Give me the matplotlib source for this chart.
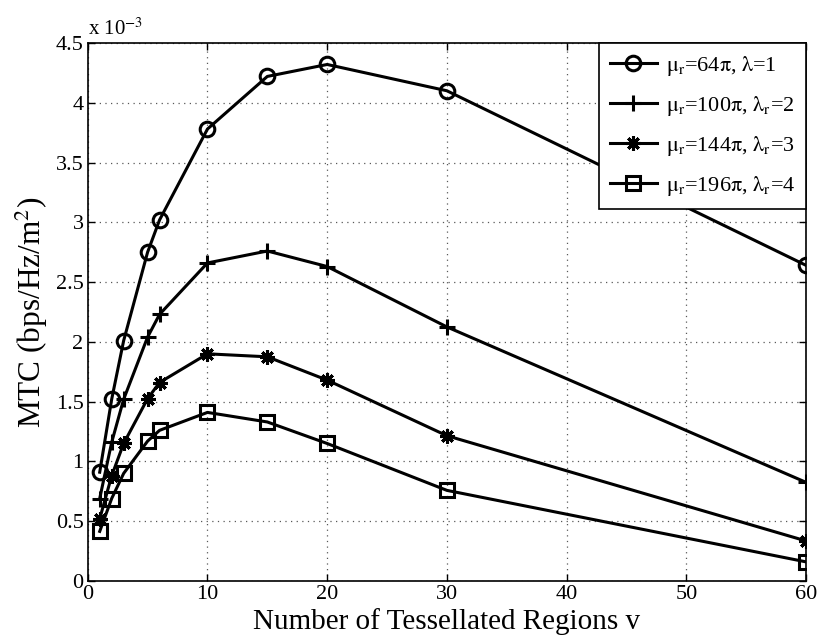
import numpy as np
import matplotlib
matplotlib.use("Agg")
import matplotlib.pyplot as plt

plt.rcParams['font.family'] = ['Liberation Serif', 'DejaVu Serif']
plt.rcParams['mathtext.fontset'] = 'stix'

# number of tessellated regions
v = [1, 2, 3, 5, 6, 10, 15, 20, 30, 60]

# MTC values in units of 1e-3 bps/Hz/m^2
mtc_64 = [0.91, 1.52, 2.01, 2.75, 3.02, 3.78, 4.22, 4.32, 4.10, 2.64]
mtc_100 = [0.69, 1.16, 1.52, 2.04, 2.23, 2.66, 2.76, 2.63, 2.125, 0.825]
mtc_144 = [0.52, 0.88, 1.15, 1.525, 1.66, 1.90, 1.875, 1.68, 1.215, 0.335]
mtc_196 = [0.415, 0.69, 0.90, 1.17, 1.26, 1.41, 1.33, 1.15, 0.758, 0.16]

labels = [r'$\mathrm{\mu_r}$=64$\mathrm{\pi}$, $\mathrm{\lambda}$=1',
          r'$\mathrm{\mu_r}$=100$\mathrm{\pi}$, $\mathrm{\lambda_r}$=2',
          r'$\mathrm{\mu_r}$=144$\mathrm{\pi}$, $\mathrm{\lambda_r}$=3',
          r'$\mathrm{\mu_r}$=196$\mathrm{\pi}$, $\mathrm{\lambda_r}$=4']

xticks = [0, 10, 20, 30, 40, 50, 60]
yticks = [0, 0.5, 1, 1.5, 2, 2.5, 3, 3.5, 4, 4.5]
ytick_labels = ['0', '0.5', '1', '1.5', '2', '2.5', '3', '3.5', '4', '4.5']

fig = plt.figure(figsize=(8.2, 6.41), dpi=100)
ax = fig.add_axes([0.107, 0.0936, 0.876, 0.8394])

kw = dict(color='k', lw=2.2, mew=2.2, mfc='none')
ax.plot(v, mtc_64, marker='o', ms=10.5, label=labels[0], **kw)
ax.plot(v, mtc_100, marker='+', ms=12, label=labels[1], **kw)
ax.plot(v, mtc_144, marker=(8, 2, 0), ms=10.5, label=labels[2], **kw)
ax.plot(v, mtc_196, marker='s', ms=9.5, label=labels[3], **kw)

ax.set_xlim(0, 60)
ax.set_ylim(0, 4.5)
ax.set_xticks(xticks)
ax.set_yticks(yticks)
ax.set_yticklabels(ytick_labels)
ax.tick_params(direction='in', top=True, right=True, length=5, labelsize=16, width=1, pad=3)
ax.grid(True, ls=(0, (1, 3.5)), color='0.35', lw=0.9)
for s in ax.spines.values():
    s.set_linewidth(1.2)

ax.set_xlabel('Number of Tessellated Regions v', fontsize=21, labelpad=2.5)
ax.set_ylabel(r'MTC (bps/Hz/m$^2$)', fontsize=22.5, labelpad=4)
ax.text(0, 1.006, r'x 10$^{-3}$', transform=ax.transAxes, fontsize=15, va='bottom', ha='left')

leg = ax.legend(loc='upper right', borderaxespad=0, fancybox=False, edgecolor='k',
                fontsize=16, handlelength=2.1, handletextpad=0.4, labelspacing=0.72,
                borderpad=0.5, framealpha=1)
leg.get_frame().set_linewidth(1.2)

fig.savefig('out.png', dpi=100)
